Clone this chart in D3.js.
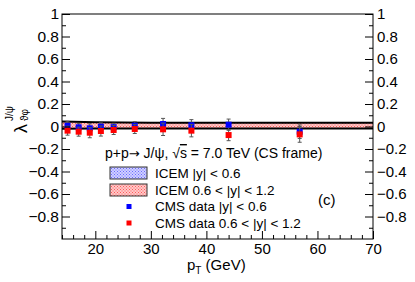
<!DOCTYPE html>
<html>
<head>
<meta charset="utf-8">
<script src="https://cdn.jsdelivr.net/npm/d3@7"></script>
<style>
  body { margin: 0; background: #fff; }
  svg text { font-family: "Liberation Sans", Arial, sans-serif; fill: #000; }
</style>
</head>
<body>
<div id="chart"></div>
<script>
// CMS points (pT in GeV, lambda_thetaphi)
const ptData = [15, 17, 19, 21, 23.3, 27.1, 32.2, 37.3, 44, 56.8];
const cmsLow = [0.006, -0.007, -0.016, -0.002, -0.006, 0.007, 0.022, 0.011, 0.016, -0.046];
const cmsLowErr = [0.04, 0.035, 0.04, 0.035, 0.035, 0.035, 0.05, 0.05, 0.05, 0.06];
const cmsHigh = [-0.037, -0.046, -0.055, -0.04, -0.031, -0.022, -0.025, -0.037, -0.076, -0.07];
const cmsHighErr = [0.04, 0.04, 0.045, 0.045, 0.04, 0.04, 0.055, 0.055, 0.05, 0.07];

// ICEM bands
const ptIcem = [14, 20, 30, 40, 50, 60, 70];
const icemLowLo = [-0.016, -0.015, -0.014, -0.014, -0.014, -0.014, -0.014];
const icemLowHi = [0.04, 0.034, 0.03, 0.029, 0.029, 0.029, 0.029];
const icemHighLo = [-0.02, -0.018, -0.017, -0.017, -0.017, -0.017, -0.017];
const icemHighHi = [0.045, 0.038, 0.034, 0.033, 0.033, 0.033, 0.033];

const xMajor = [20, 30, 40, 50, 60, 70];
const xMinor = [14, 16, 18, 22, 24, 26, 28, 32, 34, 36, 38, 42, 44, 46, 48, 52, 54, 56, 58, 62, 64, 66, 68];
const yMajor = [-0.8, -0.6, -0.4, -0.2, 0, 0.2, 0.4, 0.6, 0.8, 1];
const yMinor = [-0.9, -0.7, -0.5, -0.3, -0.1, 0.1, 0.3, 0.5, 0.7, 0.9];

const legendLabels = ["ICEM |y| < 0.6", "ICEM 0.6 < |y| < 1.2", "CMS data |y| < 0.6", "CMS data 0.6 < |y| < 1.2"];

const W = 415, H = 282;
const svg = d3.select("#chart").append("svg")
    .attr("width", W).attr("height", H);
svg.append("rect").attr("width", W).attr("height", H).attr("fill", "#fff");

const x = d3.scaleLinear().domain([14, 70]).range([62, 373]);
const y = d3.scaleLinear().domain([-1, 1]).range([239, 14]);

// fill patterns, something like root's dotted styles
const defs = svg.append("defs");
function dotPattern(id, bg, dot) {
    const p = defs.append("pattern").attr("id", id)
        .attr("patternUnits", "userSpaceOnUse").attr("width", 3).attr("height", 3);
    p.append("rect").attr("width", 3).attr("height", 3).attr("fill", bg);
    p.append("rect").attr("width", 1).attr("height", 1).attr("fill", dot);
    p.append("rect").attr("x", 1.5).attr("y", 1.5).attr("width", 1).attr("height", 1).attr("fill", dot);
}
dotPattern("patBlue", "#d0d0ff", "#6a6aff");
dotPattern("patRed", "#ffc8c8", "#ff5a5a");

// bands
const area = (lo, hi) => d3.area()
    .x((d, i) => x(ptIcem[i]))
    .y0((d, i) => y(lo[i]))
    .y1((d, i) => y(hi[i]));
const line = arr => d3.line().x((d, i) => x(ptIcem[i])).y((d, i) => y(arr[i]));

svg.append("path").datum(ptIcem).attr("d", area(icemLowLo, icemLowHi))
    .attr("fill", "url(#patBlue)");
svg.append("path").datum(ptIcem).attr("d", area(icemHighLo, icemHighHi))
    .attr("fill", "url(#patRed)");
[icemHighHi, icemHighLo].forEach(arr => {
    svg.append("path").datum(ptIcem).attr("d", line(arr))
        .attr("fill", "none").attr("stroke", "#000").attr("stroke-width", 2);
});

// data points with error bars
function drawPoints(vals, errs, color) {
    const g = svg.append("g");
    const pts = g.selectAll("g").data(ptData).enter().append("g");
    pts.append("line")
        .attr("x1", d => x(d)).attr("x2", d => x(d))
        .attr("y1", (d, i) => y(vals[i] - errs[i]))
        .attr("y2", (d, i) => y(vals[i] + errs[i]))
        .attr("stroke", "#555").attr("stroke-width", 1);
    [-1, 1].forEach(s => {
        pts.append("line")
            .attr("x1", d => x(d) - 2).attr("x2", d => x(d) + 2)
            .attr("y1", (d, i) => y(vals[i] + s * errs[i]))
            .attr("y2", (d, i) => y(vals[i] + s * errs[i]))
            .attr("stroke", "#555").attr("stroke-width", 1);
    });
    pts.append("rect")
        .attr("x", d => x(d) - 3).attr("y", (d, i) => y(vals[i]) - 3)
        .attr("width", 6).attr("height", 6)
        .attr("fill", color);
}
drawPoints(cmsLow, cmsLowErr, "#0000ff");
drawPoints(cmsHigh, cmsHighErr, "#ff0000");

// frame
svg.append("rect").attr("x", 62).attr("y", 14).attr("width", 311).attr("height", 225)
    .attr("fill", "none").attr("stroke", "#000").attr("stroke-width", 1);

// axes (ticks point inside, root style)
function addAxis(axis, tr, fs) {
    const g = svg.append("g").attr("transform", tr).call(axis);
    g.select(".domain").remove();
    g.selectAll("text").style("font-size", fs + "px").style("font-family", "Liberation Sans, Arial, sans-serif");
    return g;
}
addAxis(d3.axisBottom(x).tickValues(xMajor).tickSizeInner(-8).tickSizeOuter(0).tickPadding(4)
    .tickFormat(d3.format("d")), "translate(0,239)", 15);
addAxis(d3.axisBottom(x).tickValues(xMinor).tickSizeInner(-4).tickSizeOuter(0).tickFormat(""),
    "translate(0,239)", 15);
const fmtY = d => d3.format("~g")(d);
addAxis(d3.axisLeft(y).tickValues(yMajor).tickSizeInner(-8).tickSizeOuter(0).tickPadding(3)
    .tickFormat(fmtY), "translate(62,0)", 15.5);
addAxis(d3.axisLeft(y).tickValues(yMinor).tickSizeInner(-4).tickSizeOuter(0).tickFormat(""),
    "translate(62,0)", 15);
addAxis(d3.axisRight(y).tickValues(yMajor).tickSizeInner(-8).tickSizeOuter(0).tickPadding(4)
    .tickFormat(fmtY), "translate(373,0)", 15);
addAxis(d3.axisRight(y).tickValues(yMinor).tickSizeInner(-4).tickSizeOuter(0).tickFormat(""),
    "translate(373,0)", 15);

// axis titles
const xt = svg.append("text").attr("x", 187).attr("y", 270).style("font-size", "15px");
xt.append("tspan").text("p");
xt.append("tspan").attr("dy", 4).style("font-size", "10px").text("T");
xt.append("tspan").attr("dy", -4).text(" (GeV)");

const yt = svg.append("g").attr("transform", "translate(27,133) rotate(-90)");
yt.append("text").attr("x", 0).attr("y", 0).style("font-size", "18px").text("λ");
yt.append("text").attr("x", 12).attr("y", -14).style("font-size", "10px").text("J/ψ");
yt.append("text").attr("x", 12).attr("y", 1).style("font-size", "10px").text("ϑφ");

// legend
const title = svg.append("text").attr("x", 105).attr("y", 158).style("font-size", "14px");
title.append("tspan").text("p+p");
title.append("tspan").style("font-family", "DejaVu Sans").style("font-size", "13px").text("→");
title.append("tspan").text(" J/ψ, √");
title.append("tspan").style("text-decoration", "overline").text("s");
title.append("tspan").text(" = 7.0 TeV (CS frame)");

const legY = [173, 190, 206.5, 223];
svg.append("rect").attr("x", 110).attr("y", 167).attr("width", 37).attr("height", 12)
    .attr("fill", "url(#patBlue)").attr("stroke", "#333");
svg.append("rect").attr("x", 110).attr("y", 184).attr("width", 37).attr("height", 12)
    .attr("fill", "url(#patRed)").attr("stroke", "#333");
svg.append("rect").attr("x", 126.5).attr("y", legY[2] - 2.5).attr("width", 5).attr("height", 5).attr("fill", "#0000ff");
svg.append("rect").attr("x", 126.5).attr("y", legY[3] - 2.5).attr("width", 5).attr("height", 5).attr("fill", "#ff0000");
svg.selectAll("text.leg").data(legendLabels).enter().append("text")
    .attr("class", "leg")
    .attr("x", 155).attr("y", (d, i) => legY[i] + 4.8)
    .style("font-size", "13.5px")
    .text(d => d);

svg.append("text").attr("x", 318).attr("y", 205).style("font-size", "15px").text("(c)");
</script>
</body>
</html>
